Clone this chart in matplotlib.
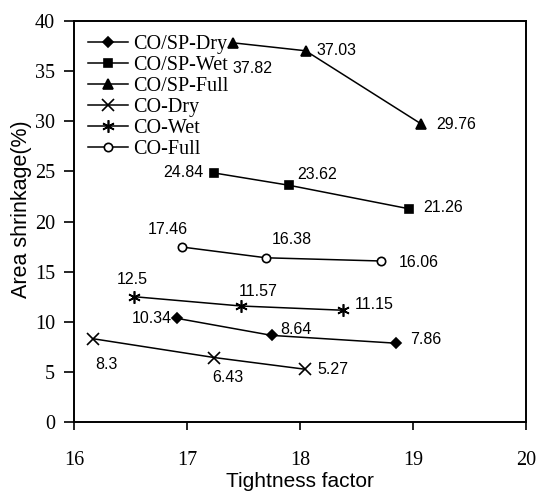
import matplotlib
matplotlib.use("Agg")
import matplotlib.pyplot as plt

# ---- data ----
series_names = ["CO/SP-Dry", "CO/SP-Wet", "CO/SP-Full", "CO-Dry", "CO-Wet", "CO-Full"]
tf_cosp_dry = [16.91, 17.75, 18.85]
as_cosp_dry = [10.34, 8.64, 7.86]
tf_cosp_wet = [17.24, 17.90, 18.97]
as_cosp_wet = [24.84, 23.62, 21.26]
tf_cosp_full = [17.41, 18.05, 19.07]
as_cosp_full = [37.82, 37.03, 29.76]
tf_co_dry = [16.17, 17.24, 18.04]
as_co_dry = [8.3, 6.43, 5.27]
tf_co_wet = [16.53, 17.48, 18.38]
as_co_wet = [12.5, 11.57, 11.15]
tf_co_full = [16.95, 17.70, 18.72]
as_co_full = [17.46, 16.38, 16.06]
x_ticks = [16, 17, 18, 19, 20]
y_ticks = [0, 5, 10, 15, 20, 25, 30, 35, 40]

xs = [tf_cosp_dry, tf_cosp_wet, tf_cosp_full, tf_co_dry, tf_co_wet, tf_co_full]
ys = [as_cosp_dry, as_cosp_wet, as_cosp_full, as_co_dry, as_co_wet, as_co_full]

# ---- styles ----
markers = ["D", "s", "^", "x", (6, 2, 0), "o"]
msizes = [5, 6, 7, 8, 9, 6]
mfcs = ["black", "black", "black", "black", "black", "white"]

# label offsets in pixels (dx, dy) and alignment for each point
label_pos = [
    [(-5, 0, "right", "center"), (8, 6, "left", "center"), (14, 4, "left", "center")],
    [(-11, 0, "right", "center"), (28, 11, "center", "center"), (14, 1, "left", "center")],
    [(19, -26, "center", "center"), (11, 0, "left", "center"), (15, -1, "left", "center")],
    [(13, -26, "center", "center"), (14, -20, "center", "center"), (13, 0, "left", "center")],
    [(-2, 17, "center", "center"), (17, 15, "center", "center"), (12, 6, "left", "center")],
    [(-14, 17, "center", "center"), (26, 18, "center", "center"), (17, -1, "left", "center")],
]

serif = ["Liberation Serif", "DejaVu Serif"]
sans = ["Liberation Sans", "DejaVu Sans"]

fig = plt.figure(figsize=(5.36, 4.93), dpi=100)
ax = fig.add_axes([0.1386, 0.144, 0.8422, 0.8134])

handles = []
for i in range(6):
    ln, = ax.plot(xs[i], ys[i], color="black", lw=1.1, marker=markers[i],
                  markersize=msizes[i], markerfacecolor=mfcs[i],
                  markeredgecolor="black", markeredgewidth=1.2, label=series_names[i])
    handles.append(ln)
    for j in range(3):
        dx, dy, ha, va = label_pos[i][j]
        ax.annotate(f"{ys[i][j]:g}", (xs[i][j], ys[i][j]), xytext=(dx, dy),
                    textcoords="offset pixels", ha=ha, va=va,
                    fontsize=11.5, family=sans, color="black")

ax.set_xlim(16, 20)
ax.set_ylim(0, 40)
ax.set_xticks(x_ticks)
ax.set_yticks(y_ticks)
ax.set_xticklabels([str(t) for t in x_ticks], family=serif, fontsize=14.5)
ax.set_yticklabels([str(t) for t in y_ticks], family=serif, fontsize=14.5)
ax.tick_params(axis="x", direction="out", length=6, width=1.2, pad=15)
ax.tick_params(axis="y", direction="out", length=7, width=1.2, pad=7)
for s in ax.spines.values():
    s.set_linewidth(1.4)

ax.set_xlabel("Tightness factor", family=sans, fontsize=15)
ax.set_ylabel("Area shrinkage(%)", family=sans, fontsize=15.5)
ax.xaxis.set_label_coords(0.5, -0.124)
ax.yaxis.set_label_coords(-0.094, 0.53)

leg = ax.legend(handles=handles, loc="upper left", bbox_to_anchor=(0.030, 0.966),
                frameon=False, prop={"family": serif, "size": 14.5},
                handlelength=2.0, handletextpad=0.25, labelspacing=0.1,
                borderpad=0, borderaxespad=0)

fig.savefig("out.png", dpi=100)
